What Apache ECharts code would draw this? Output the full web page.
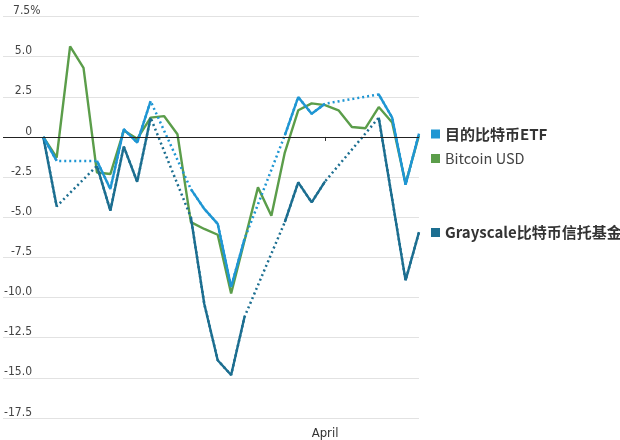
<!DOCTYPE html>
<html>
<head>
<meta charset="utf-8">
<script src="https://cdn.jsdelivr.net/npm/echarts@6/dist/echarts.min.js"></script>
<style>
  html, body { margin: 0; padding: 0; background: #ffffff; }
  #chart { width: 620px; height: 440px; }
</style>
</head>
<body>
<div id="chart"></div>
<script>
// Categories: calendar days (2021)
const dates = [
  'Mar 8','Mar 9','Mar 10','Mar 11','Mar 12','Mar 13','Mar 14','Mar 15','Mar 16','Mar 17',
  'Mar 18','Mar 19','Mar 20','Mar 21','Mar 22','Mar 23','Mar 24','Mar 25','Mar 26','Mar 27',
  'Mar 28','Mar 29','Mar 30','Mar 31','Apr 1','Apr 2','Apr 3','Apr 4','Apr 5','Apr 6',
  'Apr 7','Apr 8'
];
const xTickLabels = { 'Apr 1': 'April' };

// % change; null = no trading that day
const purposeETF = [
  null, null, null,
  0, -1.49, null, null, -1.49, -3.24, 0.48, -0.35, 2.23, null, null,
  -3.25, -4.48, -5.41, -9.34, -6.34, null, null, 0.1, 2.48, 1.45, 2.07,
  null, null, null, 2.65, 1.2, -2.98, 0.21
];
const bitcoinUSD = [
  null, null, null,
  0, -1.28, 5.64, 4.3, -2.21, -2.31, 0.4, -0.12, 1.2, 1.3, 0.17,
  -5.3, -5.73, -6.09, -9.75, -6.45, -3.14, -4.9, -0.97, 1.66, 2.09, 1.98,
  1.66, 0.62, 0.54, 1.86, 0.9, -2.9, 0.1
];
const grayscale = [
  null, null, null,
  0, -4.32, null, null, -1.8, -4.59, -0.6, -2.79, 1.2, null, null,
  -5.0, -10.4, -13.9, -14.82, -11.2, null, null, -5.3, -2.83, -4.07, -2.77,
  null, null, null, 1.2, -3.86, -8.93, -5.93
];

const names = ['目的比特币ETF', 'Bitcoin USD', 'Grayscale比特币信托基金'];
const colors = ['#1f96d3', '#5b9d4a', '#1c6e90'];

const yMin = -17.5, yMax = 7.5, yStep = 2.5;

const chart = echarts.init(document.getElementById('chart'), null, { renderer: 'canvas' });

function solid(name, data, color, extra) {
  return Object.assign({
    name: name, type: 'line', data: data, connectNulls: false,
    showSymbol: false, symbol: 'none', animation: false, silent: true,
    lineStyle: { color: color, width: 2.4, type: 'solid' },
    itemStyle: { color: color }
  }, extra || {});
}
function dotted(name, data, color) {
  return {
    name: name, type: 'line', data: data, connectNulls: true,
    showSymbol: false, symbol: 'none', animation: false, silent: true,
    lineStyle: { color: color, width: 2.5, type: [2, 3] },
    itemStyle: { color: color }
  };
}

const narrow = 'Liberation Sans Narrow, DejaVu Sans Condensed, sans-serif';
const legendText = { fontFamily: 'Noto Sans CJK SC', fontSize: 15, color: '#333', lineHeight: 18 };

chart.setOption({
  animation: false,
  backgroundColor: '#ffffff',
  grid: { left: 0, right: 201, top: 16.5, bottom: 20.5, containLabel: false },
  legend: [
    { data: [names[0]], left: 431, top: 125, icon: 'rect', itemWidth: 9, itemHeight: 9, itemGap: 5, padding: 0,
      selectedMode: false, textStyle: Object.assign({}, legendText, { fontWeight: 'bold' }) },
    { data: [names[1]], left: 431, top: 149.5, icon: 'rect', itemWidth: 9, itemHeight: 9, itemGap: 5, padding: 0,
      selectedMode: false, textStyle: Object.assign({}, legendText, { fontSize: 14.5, color: '#444' }) },
    { data: [names[2]], left: 431, top: 223.5, icon: 'rect', itemWidth: 9, itemHeight: 9, itemGap: 5, padding: 0,
      selectedMode: false, textStyle: Object.assign({}, legendText, { fontWeight: 'bold' }) }
  ],
  xAxis: {
    type: 'category', data: dates, boundaryGap: false,
    axisLine: { show: false },
    axisTick: { show: true, length: 4, lineStyle: { color: '#333', width: 1 },
      interval: function (i, v) { return xTickLabels[v] !== undefined; } },
    axisLabel: { show: true, margin: 9, fontFamily: narrow,
      fontSize: 13, color: '#333',
      interval: function (i, v) { return xTickLabels[v] !== undefined; },
      formatter: function (v) { return xTickLabels[v] || ''; } },
    splitLine: { show: false }
  },
  yAxis: {
    type: 'value', min: yMin, max: yMax, interval: yStep,
    axisLine: { show: false }, axisTick: { show: false },
    splitLine: { show: true, lineStyle: { color: '#e2e2e2', width: 1 } },
    axisLabel: {
      inside: true, margin: 0, align: 'left', verticalAlign: 'bottom',
      fontFamily: narrow, fontSize: 12, color: '#444',
      formatter: function (v) {
        const t = (v === 0) ? '0' : v.toFixed(1);
        return v === yMax ? '{w|' + t + '%}' : '{v|' + t + '}';
      },
      rich: {
        v: { width: 29, align: 'right', fontFamily: narrow, fontSize: 12, color: '#444', lineHeight: 11 },
        w: { width: 37.5, align: 'right', fontFamily: narrow, fontSize: 12, color: '#444', lineHeight: 11 }
      }
    }
  },
  series: [
    solid(names[1], bitcoinUSD, colors[1], {
      markLine: { silent: true, symbol: ['none', 'none'], label: { show: false }, animation: false,
        lineStyle: { color: '#222', width: 1, type: 'solid' }, data: [{ yAxis: 0 }] }
    }),
    dotted(names[2], grayscale, colors[2]),
    solid(names[2], grayscale, colors[2]),
    dotted(names[0], purposeETF, colors[0]),
    solid(names[0], purposeETF, colors[0])
  ]
});
</script>
</body>
</html>
